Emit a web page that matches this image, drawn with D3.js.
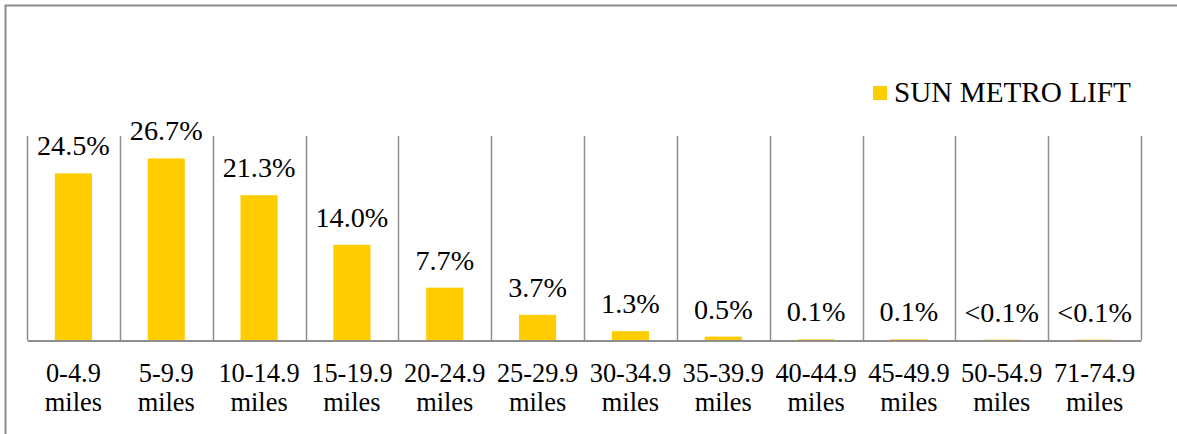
<!DOCTYPE html>
<html>
<head>
<meta charset="utf-8">
<script src="https://cdn.jsdelivr.net/npm/d3@7"></script>
<style>
  html, body { margin: 0; padding: 0; background: #fff; }
  svg { display: block; }
</style>
</head>
<body>
<svg id="chart" width="1177" height="434"></svg>
<script>
// Trip length distribution, Sun Metro LIFT
const categories = ["0-4.9 miles", "5-9.9 miles", "10-14.9 miles", "15-19.9 miles",
  "20-24.9 miles", "25-29.9 miles", "30-34.9 miles", "35-39.9 miles",
  "40-44.9 miles", "45-49.9 miles", "50-54.9 miles", "71-74.9 miles"];
const values = [24.5, 26.7, 21.3, 14.0, 7.7, 3.7, 1.3, 0.5, 0.1, 0.1, 0.05, 0.05];
const valueLabels = ["24.5%", "26.7%", "21.3%", "14.0%", "7.7%", "3.7%", "1.3%",
  "0.5%", "0.1%", "0.1%", "<0.1%", "<0.1%"];
const seriesName = "SUN METRO LIFT";
const yMax = 30;

const FONT = "Liberation Serif";
const svg = d3.select("#chart");
const W = 1177, H = 434;
const plot = { left: 27, right: 1141, top: 136, bottom: 340 };
const barColor = "#FFCC00";
const gridColor = "#8f8f8f";

// outer frame (top and left edges visible)
svg.append("path")
  .attr("d", `M5.5,${H} V5.5 H${W}`)
  .attr("fill", "none")
  .attr("stroke", "#8c8c8c")
  .attr("stroke-width", 2);

const x = d3.scaleBand()
  .domain(categories)
  .range([plot.left, plot.right])
  .paddingInner(0)
  .paddingOuter(0);

const y = d3.scaleLinear()
  .domain([0, yMax])
  .range([plot.bottom, plot.top]);

// bars
const barW = x.bandwidth() * 0.4;
svg.append("g").selectAll("rect")
  .data(values)
  .join("rect")
  .attr("x", (d, i) => x(categories[i]) + (x.bandwidth() - barW) / 2)
  .attr("width", barW)
  .attr("y", d => y(d))
  .attr("height", d => plot.bottom - y(d))
  .attr("fill", barColor);

// vertical separators between categories
const edges = categories.map(c => x(c)).concat([plot.right]);
svg.append("g").selectAll("line")
  .data(edges)
  .join("line")
  .attr("x1", d => Math.round(d) + 0.5)
  .attr("x2", d => Math.round(d) + 0.5)
  .attr("y1", plot.top)
  .attr("y2", plot.bottom)
  .attr("stroke", gridColor)
  .attr("stroke-width", 1.5);

// baseline axis
const xAxis = d3.axisBottom(x).tickSize(0).tickFormat("");
const axisG = svg.append("g")
  .attr("transform", `translate(0,${plot.bottom + 0.5})`)
  .call(xAxis);
axisG.select(".domain")
  .attr("stroke", gridColor)
  .attr("stroke-width", 2);

// category labels, two lines each
const catLabels = svg.append("g").selectAll("text")
  .data(categories)
  .join("text")
  .attr("x", d => x(d) + x.bandwidth() / 2)
  .attr("y", 382)
  .attr("text-anchor", "middle")
  .style("font-family", FONT)
  .style("font-size", "26.4px")
  .attr("fill", "#000");
catLabels.each(function (d) {
  const parts = d.split(" ");
  const t = d3.select(this);
  t.append("tspan").attr("x", x(d) + x.bandwidth() / 2).attr("dy", 0).text(parts[0]);
  t.append("tspan").attr("x", x(d) + x.bandwidth() / 2).attr("dy", 29).text(parts[1]);
});

// value labels above bars
svg.append("g").selectAll("text")
  .data(values)
  .join("text")
  .attr("x", (d, i) => x(categories[i]) + x.bandwidth() / 2)
  .attr("y", d => y(d) - 18)
  .attr("text-anchor", "middle")
  .style("font-family", FONT)
  .style("font-size", "28.2px")
  .attr("fill", "#000")
  .text((d, i) => valueLabels[i]);

// legend
const legend = svg.append("g");
legend.append("rect")
  .attr("x", 873).attr("y", 86)
  .attr("width", 14).attr("height", 14)
  .attr("fill", barColor);
legend.append("text")
  .attr("x", 894).attr("y", 102)
  .style("font-family", FONT)
  .style("font-size", "29.2px")
  .attr("fill", "#000")
  .text(seriesName);
</script>
</body>
</html>
